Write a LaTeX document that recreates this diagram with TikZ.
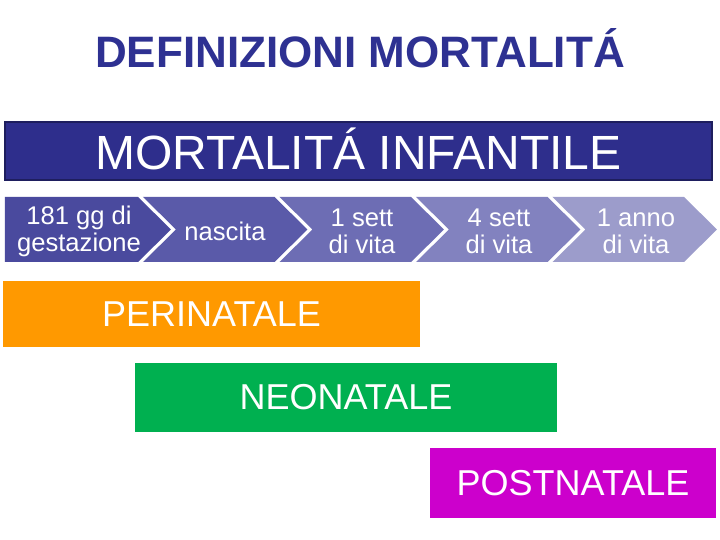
\documentclass[tikz,border=0pt]{standalone}
\usepackage{fontspec}
\setmainfont{Liberation Sans}
\usetikzlibrary{positioning}
\definecolor{titleblue}{HTML}{2E3192}
\definecolor{bannerblue}{HTML}{2E2E8C}
\definecolor{bannerline}{HTML}{1E1E5E}
\definecolor{chevA}{HTML}{4A4A9E}
\definecolor{chevB}{HTML}{5A5AA9}
\definecolor{chevC}{HTML}{6D6DB4}
\definecolor{chevD}{HTML}{8282BF}
\definecolor{chevE}{HTML}{9C9CCB}
\definecolor{periorange}{HTML}{FF9900}
\definecolor{neogreen}{HTML}{00B050}
\definecolor{postmagenta}{HTML}{CC00CC}
\tikzstyle{banner} = [rectangle, fill=bannerblue, draw=bannerline, line width=1pt, text=white, inner sep=0pt]
\tikzstyle{period} = [rectangle, text=white, inner sep=0pt, font=\fontsize{18}{20}\selectfont]
\tikzstyle{steptext} = [align=center, text=white, inner sep=0pt, font=\fontsize{12.8}{13.5}\selectfont]

\begin{document}
\begin{tikzpicture}[x=0.5pt, y=-0.5pt]
  \useasboundingbox[fill=white] (0,0) rectangle (720,540);

  \node[anchor=base, text=titleblue, font=\bfseries\fontsize{22}{26}\selectfont] (title) at (360,68) {DEFINIZIONI MORTALITÁ};

  \node[banner, minimum width=353.5pt, minimum height=29pt] (infant) at (358.5,151) {};
  \node[anchor=base, text=white, font=\fontsize{24}{28}\selectfont] (infanttext) at (358.5,169.5) {MORTALITÁ INFANTILE};

  % chevrons
  \fill[chevA] (5,197) -- (138,197) -- (171,229.5) -- (138,262) -- (5,262) -- cycle;
  \foreach \i/\col in {1/chevB, 2/chevC, 3/chevD, 4/chevE} {
    \pgfmathsetmacro{\tp}{171+136.5*(\i-1)}
    \pgfmathsetmacro{\tc}{171+136.5*\i}
    \fill[\col] ({\tp-28},197) -- ({\tc-33},197) -- (\tc,229.5) -- ({\tc-33},262) -- ({\tp-28},262) -- ({\tp+5},229.5) -- cycle;
  }

  \node[steptext] (gest) at (79,231) {181 gg di\\gestazione};
  \node[steptext] (nasc) at (225,231) {nascita};
  \node[steptext] (sett1) at (362,231) {1 sett\\di vita};
  \node[steptext] (sett4) at (499,231) {4 sett\\di vita};
  \node[steptext] (anno1) at (636,231) {1 anno\\di vita};

  \node[period, fill=periorange, minimum width=208.5pt, minimum height=33pt] (peri) at (211.5,314) {PERINATALE};
  \node[period, fill=neogreen, minimum width=211pt, minimum height=34.5pt] (neo) at (346,397.5) {NEONATALE};
  \node[period, fill=postmagenta, minimum width=143pt, minimum height=35pt] (post) at (573,483) {POSTNATALE};

\end{tikzpicture}
\end{document}
